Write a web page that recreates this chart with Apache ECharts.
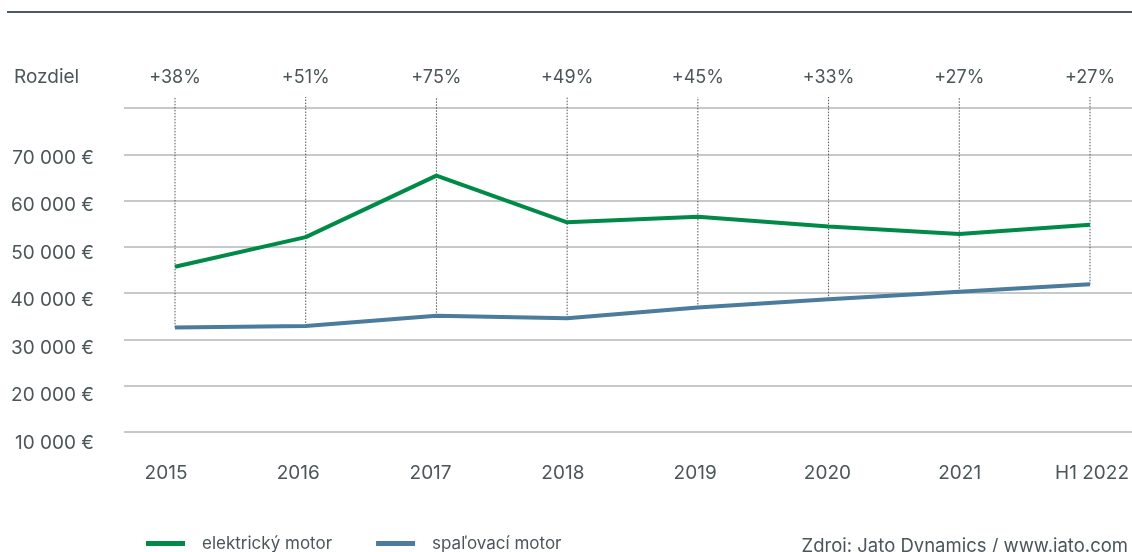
<!DOCTYPE html>
<html>
<head>
<meta charset="utf-8">
<script src="https://cdn.jsdelivr.net/npm/echarts@6/dist/echarts.min.js"></script>
<style>
  html, body { margin: 0; padding: 0; background: #fff; }
  #main { width: 1132px; height: 552px; }
</style>
</head>
<body>
<div id="main"></div>
<script>
// kategórie (roky)
var roky = ['2015', '2016', '2017', '2018', '2019', '2020', '2021', 'H1 2022'];
// priemerná cena - elektrický motor
var elektricky = [45700, 52100, 65400, 55300, 56500, 54400, 52800, 54800];
// priemerná cena - spaľovací motor
var spalovaci = [32600, 32900, 35100, 34600, 36900, 38700, 40300, 41900];
// rozdiel v %
var rozdiel = ['+38%', '+51%', '+75%', '+49%', '+45%', '+33%', '+27%', '+27%'];

var textColor = '#4b5659';
var font = 'Inter, "Noto Sans", sans-serif';

var myChart = echarts.init(document.getElementById('main'));

var option = {
    backgroundColor: '#ffffff',
    animation: false,
    textStyle: { fontFamily: font },
    legend: {
        left: 141,
        top: 530,
        itemWidth: 39,
        itemHeight: 5,
        itemGap: 44,
        icon: 'rect',
        data: ['elektrický motor', 'spaľovací motor'],
        textStyle: {
            color: textColor,
            fontSize: 17,
            fontFamily: font,
            padding: [0, 0, 0, 12]
        }
    },
    graphic: [
        {
            type: 'line',
            shape: { x1: 7, y1: 12, x2: 1132, y2: 12 },
            style: { stroke: '#4a5a60', lineWidth: 2 }
        },
        {
            type: 'text',
            left: 14,
            top: 68,
            style: { text: 'Rozdiel', fill: textColor, fontSize: 19, fontFamily: font }
        },
        {
            type: 'text',
            right: 4,
            top: 537,
            style: {
                text: 'Zdroj: Jato Dynamics / www.jato.com',
                fill: textColor, fontSize: 18.5, fontFamily: font
            }
        }
    ],
    grid: [
        // mriežka
        { left: 124, right: 0, top: 108, height: 324 },
        // dáta
        { left: 175, right: 42, top: 108, height: 324 },
        // popisy rokov
        { left: 166, right: 40, top: 108, height: 324 },
        // popisy osi y
        { left: 124, right: 0, top: 158, height: 285 }
    ],
    xAxis: [
        { gridIndex: 0, type: 'category', data: roky, show: false },
        {
            gridIndex: 1, type: 'category', data: roky, boundaryGap: false,
            axisLine: { show: false }, axisTick: { show: false }, axisLabel: { show: false }
        },
        {
            gridIndex: 1, type: 'category', data: rozdiel, boundaryGap: false, position: 'top',
            axisLine: { show: false }, axisTick: { show: false },
            axisLabel: { color: textColor, fontSize: 18, margin: 21, interval: 0, fontFamily: font }
        },
        {
            gridIndex: 2, type: 'category', data: roky, boundaryGap: false,
            axisLine: { show: false }, axisTick: { show: false },
            axisLabel: { color: textColor, fontSize: 19, margin: 32, interval: 0, fontFamily: font }
        },
        { gridIndex: 3, type: 'category', data: roky, show: false }
    ],
    yAxis: [
        {
            gridIndex: 0, type: 'value', min: 10000, max: 80000, interval: 10000,
            axisLine: { show: false }, axisTick: { show: false }, axisLabel: { show: false },
            splitLine: { lineStyle: { color: '#b3b7b7', width: 1.5 } }
        },
        {
            gridIndex: 1, type: 'value', min: 10000, max: 80000, interval: 10000,
            show: false
        },
        {
            gridIndex: 2, type: 'value', min: 10000, max: 80000, show: false
        },
        {
            gridIndex: 3, type: 'value', min: 10000, max: 70000, interval: 10000,
            axisLine: { show: false }, axisTick: { show: false }, splitLine: { show: false },
            axisLabel: {
                color: textColor, fontSize: 19, margin: 30, fontFamily: font,
                formatter: function (v) {
                    return String(v).replace(/\B(?=(\d{3})+(?!\d))/g, ' ') + ' €';
                }
            }
        }
    ],
    series: [
        {
            // bodkované čiary od rozdielu po spodnú krivku
            name: 'rozdiel',
            type: 'custom',
            xAxisIndex: 1,
            yAxisIndex: 1,
            clip: false,
            silent: true,
            z: 1,
            data: spalovaci.map(function (v, i) { return [i, v]; }),
            renderItem: function (params, api) {
                var bottom = api.coord([api.value(0), api.value(1)]);
                var top = api.coord([api.value(0), 80000]);
                return {
                    type: 'line',
                    shape: { x1: bottom[0], y1: bottom[1], x2: bottom[0], y2: top[1] - 11 },
                    style: { stroke: '#555', lineWidth: 1, lineDash: [1.5, 1.5] }
                };
            }
        },
        {
            name: 'elektrický motor',
            type: 'line',
            xAxisIndex: 1,
            yAxisIndex: 1,
            data: elektricky,
            symbol: 'none',
            z: 3,
            color: '#008a47',
            lineStyle: { width: 4, color: '#008a47' }
        },
        {
            name: 'spaľovací motor',
            type: 'line',
            xAxisIndex: 1,
            yAxisIndex: 1,
            data: spalovaci,
            symbol: 'none',
            z: 3,
            color: '#4b7b9d',
            lineStyle: { width: 4, color: '#4b7b9d' }
        }
    ]
};

myChart.setOption(option);
window.addEventListener('resize', function () {
    myChart.resize();
});
</script>
</body>
</html>
